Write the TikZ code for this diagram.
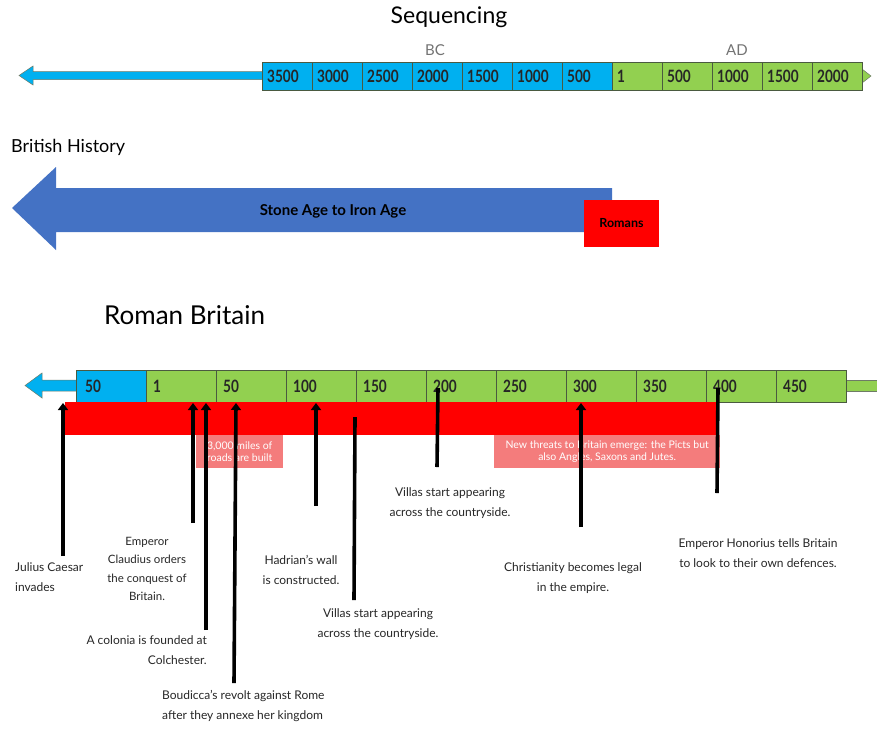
\documentclass[tikz,border=0pt]{standalone}
\usepackage{fontspec}
\setmainfont{Lato}
\usetikzlibrary{arrows.meta}
\definecolor{bcblue}{HTML}{00B0F0}
\definecolor{adgreen}{HTML}{92D050}
\definecolor{boxedge}{HTML}{4A5A40}
\definecolor{bigblue}{HTML}{4472C4}
\definecolor{romred}{HTML}{FF0000}
\definecolor{pink}{HTML}{F47C7C}
\newcommand{\yr}[1]{\scalebox{0.8}[1]{\fontsize{17}{17}\selectfont\bfseries #1}}
\tikzset{
  yearbox/.style={draw=boxedge, line width=0.6pt, minimum height=28pt, inner sep=0pt, anchor=west},
  romanbox/.style={draw=boxedge, line width=0.6pt, minimum width=70pt, minimum height=32pt, inner sep=0pt, anchor=west},
  yrlabel/.style={anchor=west, inner sep=0pt, text=black!85},
  evline/.style={line width=3.6pt, black},
  evarrow/.style={evline, -{Triangle[width=10pt,length=7pt]}},
  evtext/.style={font=\fontsize{12}{20}\selectfont, text=black!85, inner sep=0pt, align=center},
  pinkbox/.style={fill=pink, inner sep=0pt, text=white, font=\fontsize{10.5}{12.5}\selectfont, align=center},
}
\begin{document}
\begin{tikzpicture}[x=1pt,y=-1pt]
\useasboundingbox (0,0) rectangle (877,729);
% ---------- Sequencing ----------
\node[font=\fontsize{23}{23}\selectfont] (seq) at (449,17) {Sequencing};
\node[font=\fontsize{15}{15}\selectfont, text=black!55] (bc) at (435,50) {BC};
\node[font=\fontsize{15}{15}\selectfont, text=black!55] (ad) at (737,50) {AD};
% left arrow
\draw[draw=boxedge!80, fill=bcblue, line width=0.5pt]
  (262,71.5) -- (33,71.5) -- (33,66) -- (19,75.5) -- (33,85) -- (33,79.5) -- (262,79.5);
% right arrowhead
\draw[draw=boxedge!80, fill=adgreen, line width=0.5pt]
  (862,69) -- (871,76) -- (862,83);
\foreach \x/\t [count=\i] in {262/3500,312/3000,362/2500,412/2000,462/1500,512/1000,562/500}{
  \node[yearbox, fill=bcblue, minimum width=50pt] (s\i) at (\x,76) {};
  \node[yrlabel] (sl\i) at (\x+5,76) {\yr{\t}};
}
\foreach \x/\t [count=\i] in {612/1,662/500,712/1000,762/1500,812/2000}{
  \node[yearbox, fill=adgreen, minimum width=50pt] (a\i) at (\x,76) {};
  \node[yrlabel] (al\i) at (\x+5,76) {\yr{\t}};
}
% ---------- British History ----------
\node[font=\fontsize{18}{18}\selectfont, anchor=west, inner sep=0pt] (bh) at (11,147) {British History};
\fill[bigblue] (612,188) -- (56,188) -- (56,167) -- (12,208) -- (56,250) -- (56,232) -- (612,232) -- cycle;
\node[font=\fontsize{15}{15}\selectfont\bfseries] (stone) at (333,211) {Stone Age to Iron Age};
\node[fill=romred, minimum width=75pt, minimum height=47pt, inner sep=0pt, font=\fontsize{12.5}{12.5}\selectfont\bfseries] (rom) at (621.5,223.5) {Romans};
% ---------- Roman Britain ----------
\node[font=\fontsize{26}{26}\selectfont, anchor=west, inner sep=0pt] (rb) at (104,315) {Roman Britain};
% left arrow
\draw[draw=boxedge!80, fill=bcblue, line width=0.5pt]
  (76,380) -- (42,380) -- (42,373) -- (25,385.5) -- (42,398) -- (42,391) -- (76,391);
% right shaft
\draw[draw=boxedge!80, fill=adgreen, line width=0.5pt]
  (877,380) -- (846,380) -- (846,391) -- (877,391);
\node[romanbox, fill=bcblue] (r0) at (76,386) {};
\node[yrlabel] (rl0) at (85,386) {\yr{50}};
\foreach \x/\t [count=\i] in {146/1,216/50,286/100,356/150,426/200,496/250,566/300,636/350,706/400,776/450}{
  \node[romanbox, fill=adgreen] (r\i) at (\x,386) {};
  \node[yrlabel] (rl\i) at (\x+7,386) {\yr{\t}};
}
% red bar and pink boxes
\node[fill=romred, minimum width=653pt, minimum height=33pt, inner sep=0pt, anchor=north west] (bar) at (65,402) {};
\node[pinkbox, minimum width=87pt, minimum height=33pt, anchor=north west] (roads) at (196,435) {3,000 miles of\\roads are built};
\node[pinkbox, minimum width=226pt, minimum height=33pt, anchor=north west] (threats) at (494,435) {New threats to Britain emerge: the Picts but\\also Angles, Saxons and Jutes.};
% event labels
\node[evtext, align=left, anchor=north west] (jc) at (15,562) {Julius Caesar\\invades};
\node[evtext, anchor=north, font=\fontsize{11.5}{18.3}\selectfont] (cl) at (147,537) {Emperor\\Claudius orders\\the conquest of\\Britain.};
\node[evtext, align=right, anchor=north east] (col) at (207,635) {A colonia is founded at\\Colchester.};
\node[evtext, align=left, anchor=north west] (bou) at (162,690) {Boudicca's revolt against Rome\\after they annexe her kingdom};
\node[evtext, anchor=north] (had) at (301,555) {Hadrian's wall\\is constructed.};
\node[evtext, anchor=north] (vil1) at (378,608) {Villas start appearing\\across the countryside.};
\node[evtext, anchor=north] (vil2) at (450,487) {Villas start appearing\\across the countryside.};
\node[evtext, anchor=north] (chr) at (573,562) {Christianity becomes legal\\in the empire.};
\node[evtext, anchor=north] (hon) at (758,538) {Emperor Honorius tells Britain\\to look to their own defences.};
% connector end points
\coordinate (jcb) at (63,556);   \coordinate (jct) at (63,403);
\coordinate (clb) at (193,523);  \coordinate (clt) at (193,403);
\coordinate (colb) at (206,630); \coordinate (colt) at (206,403);
\coordinate (boub) at (234,683); \coordinate (bout) at (236,403);
\coordinate (hadb) at (316,506); \coordinate (hadt) at (316,403);
\coordinate (v1b) at (354,600);  \coordinate (v1t) at (355,417);
\coordinate (v2b) at (437,467);  \coordinate (v2t) at (438,388);
\coordinate (chb) at (581,527);  \coordinate (cht) at (581,403);
\coordinate (hob) at (717,493);  \coordinate (hot) at (718,388);
\draw[evarrow] (jcb) -- (jct);
\draw[evarrow] (clb) -- (clt);
\draw[evarrow] (colb) -- (colt);
\draw[evarrow] (boub) -- (bout);
\draw[evarrow] (hadb) -- (hadt);
\draw[evline] (v1b) -- (v1t);
\draw[evline] (v2b) -- (v2t);
\draw[evarrow] (chb) -- (cht);
\draw[evline] (hob) -- (hot);
\end{tikzpicture}
\end{document}
